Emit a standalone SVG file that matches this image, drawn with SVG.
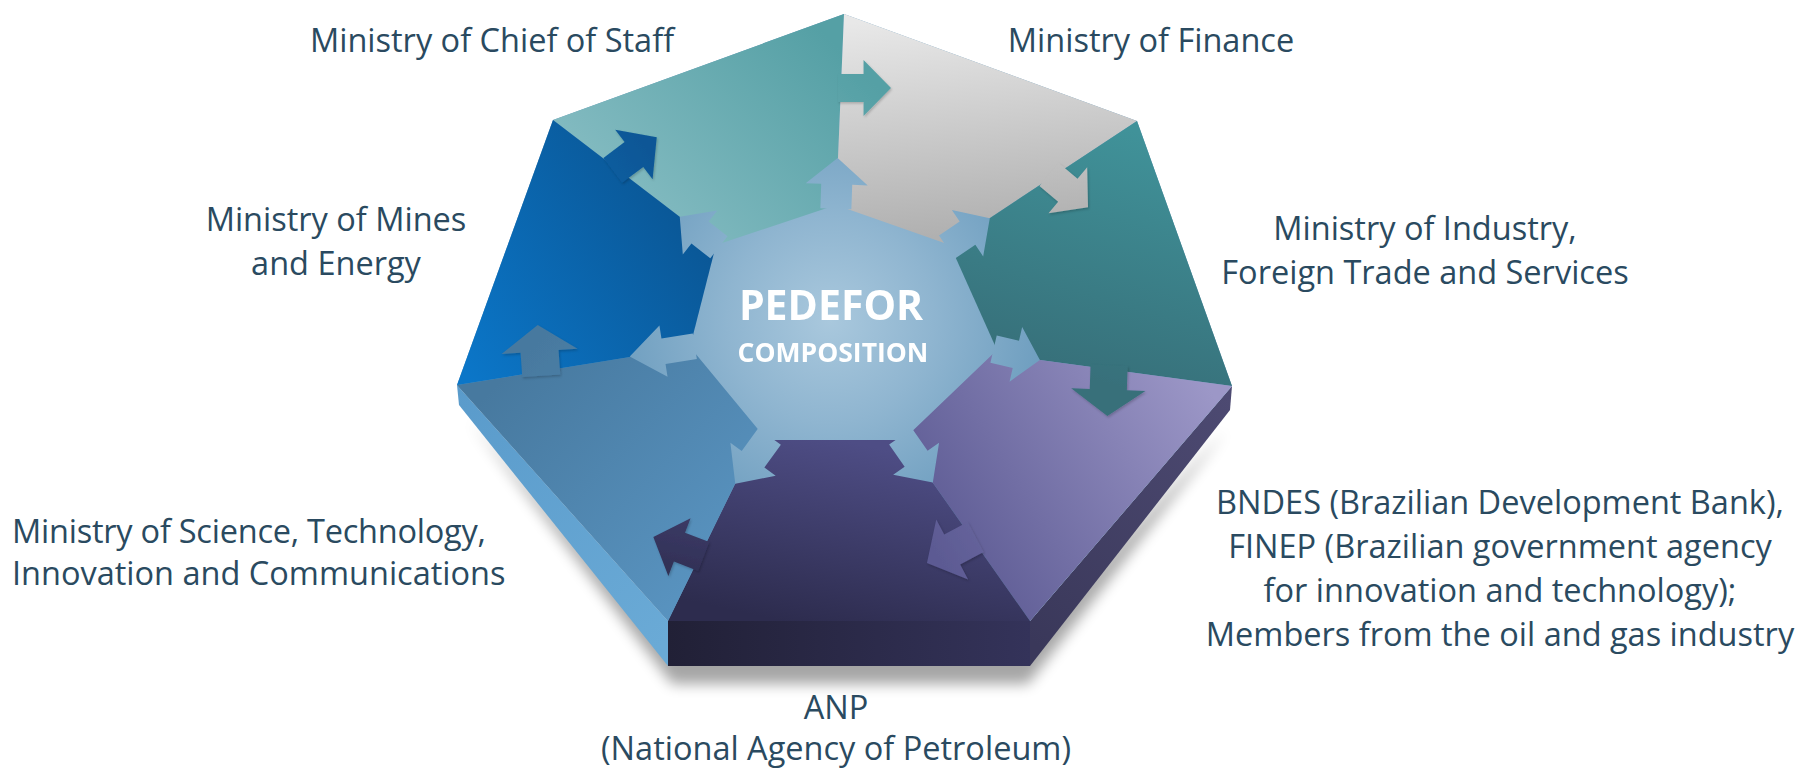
<svg xmlns="http://www.w3.org/2000/svg" xmlns:xlink="http://www.w3.org/1999/xlink" width="1802" height="771" viewBox="0 0 1802 771">
  <style>
    .label { font-family: "Open Sans", "Noto Sans", "DejaVu Sans", sans-serif; font-size: 32.5px; fill: #2a4a60; text-anchor: middle; }
    .left { text-anchor: start; }
    .hubtxt { font-family: "Open Sans", "Noto Sans", "DejaVu Sans", sans-serif; font-weight: 700; fill: #ffffff; text-anchor: middle; }
  </style>
  <defs>
    <!-- top-face fills, all in user space so arrows continue their piece colour -->
    <radialGradient id="g-hub" gradientUnits="userSpaceOnUse" cx="830" cy="320" r="230">
      <stop offset="0" stop-color="#a9c8dd"/>
      <stop offset="0.45" stop-color="#8fb5d0"/>
      <stop offset="1" stop-color="#6a9bbd"/>
    </radialGradient>
    <linearGradient id="g-chief" gradientUnits="userSpaceOnUse" x1="820" y1="30" x2="620" y2="230">
      <stop offset="0" stop-color="#55a0a5"/>
      <stop offset="1" stop-color="#87bdc3"/>
    </linearGradient>
    <linearGradient id="g-finance" gradientUnits="userSpaceOnUse" x1="880" y1="20" x2="900" y2="240">
      <stop offset="0" stop-color="#e8e8e8"/>
      <stop offset="1" stop-color="#b0b0b0"/>
    </linearGradient>
    <linearGradient id="g-industry" gradientUnits="userSpaceOnUse" x1="1130" y1="130" x2="1060" y2="370">
      <stop offset="0" stop-color="#409299"/>
      <stop offset="1" stop-color="#37707a"/>
    </linearGradient>
    <linearGradient id="g-bndes" gradientUnits="userSpaceOnUse" x1="940" y1="560" x2="1210" y2="390">
      <stop offset="0" stop-color="#5c5a93"/>
      <stop offset="1" stop-color="#9c97c7"/>
    </linearGradient>
    <linearGradient id="g-anp" gradientUnits="userSpaceOnUse" x1="840" y1="440" x2="800" y2="625">
      <stop offset="0" stop-color="#4e4d85"/>
      <stop offset="1" stop-color="#2d2c4e"/>
    </linearGradient>
    <linearGradient id="g-science" gradientUnits="userSpaceOnUse" x1="500" y1="380" x2="720" y2="600">
      <stop offset="0" stop-color="#47799f"/>
      <stop offset="1" stop-color="#5a95c2"/>
    </linearGradient>
    <linearGradient id="g-mines" gradientUnits="userSpaceOnUse" x1="470" y1="380" x2="700" y2="230">
      <stop offset="0" stop-color="#0b76c8"/>
      <stop offset="1" stop-color="#0a5796"/>
    </linearGradient>
    <!-- extruded sides -->
    <linearGradient id="g-side-left" gradientUnits="userSpaceOnUse" x1="457" y1="390" x2="668" y2="640">
      <stop offset="0" stop-color="#5a9bcb"/>
      <stop offset="1" stop-color="#6aaad6"/>
    </linearGradient>
    <linearGradient id="g-front" gradientUnits="userSpaceOnUse" x1="668" y1="0" x2="1030" y2="0">
      <stop offset="0" stop-color="#212036"/>
      <stop offset="1" stop-color="#34335a"/>
    </linearGradient>
    <linearGradient id="g-side-right" gradientUnits="userSpaceOnUse" x1="1030" y1="640" x2="1232" y2="400">
      <stop offset="0" stop-color="#3a385a"/>
      <stop offset="1" stop-color="#4d4a72"/>
    </linearGradient>
    <filter id="soft" x="-20%" y="-20%" width="140%" height="140%">
      <feGaussianBlur stdDeviation="7"/>
    </filter>
    <!-- faint edge shading so the tongues read as raised into their neighbours -->
    <filter id="lift" x="-10%" y="-10%" width="120%" height="120%">
      <feDropShadow dx="1" dy="1.5" stdDeviation="0.8" flood-color="#000000" flood-opacity="0.2"/>
    </filter>
    <!-- one arrow, pointing along +x, base on the seam at the origin -->
    <path id="arw" d="M-4,-16 L22,-16 L22,-32 L50,0 L22,32 L22,16 L-4,16 Z"/>
    <clipPath id="c-hub-arrows">
      <use href="#arw" transform="translate(836 205) rotate(-88) scale(0.94 0.97)"/>
      <use href="#arw" transform="translate(950 245) rotate(-34) scale(0.96 0.875)"/>
      <use href="#arw" transform="translate(997 350) rotate(13) scale(0.88 0.875)"/>
      <use href="#arw" transform="translate(903 440) rotate(55) scale(1.04 0.875)"/>
      <use href="#arw" transform="translate(767 440) rotate(126) scale(1.08 0.875)"/>
      <use href="#arw" transform="translate(690 347) rotate(171) scale(1.22 0.81)"/>
      <use href="#arw" transform="translate(716 245) rotate(218) scale(0.92 0.875)"/>
    </clipPath>
    <clipPath id="c-a-chief"><use href="#arw" transform="translate(842 88) rotate(0) scale(0.98 0.875)"/></clipPath>
    <clipPath id="c-a-finance"><use href="#arw" transform="translate(1052 177) rotate(40) scale(0.94 0.94)"/></clipPath>
    <clipPath id="c-a-industry"><use href="#arw" transform="translate(1109 369) rotate(92) scale(0.94 1.16)"/></clipPath>
    <clipPath id="c-a-bndes"><use href="#arw" transform="translate(972 539) rotate(152) scale(1.02 1.06)"/></clipPath>
    <clipPath id="c-a-anp"><use href="#arw" transform="translate(700 555) rotate(201) scale(1.0 0.97)"/></clipPath>
    <clipPath id="c-a-science"><use href="#arw" transform="translate(541 372) rotate(-94) scale(0.94 1.19)"/></clipPath>
    <clipPath id="c-a-mines"><use href="#arw" transform="translate(616 168) rotate(-37) scale(1.02 0.97)"/></clipPath>
  </defs>

  <rect width="1802" height="771" fill="#ffffff"/>

  <!-- slab: cast shadow and extruded sides -->
  <g id="slab">
    <polygon points="470,420 672,684 1028,684 1226,430 1030,640 668,640" fill="#000000" opacity="0.35" filter="url(#soft)"/>
    <polygon points="457,385 668,621 668,666 459,405" fill="url(#g-side-left)"/>
    <polygon points="668,621 1030,621 1030,666 668,666" fill="url(#g-front)"/>
    <polygon points="1030,621 1232,386 1230,410 1030,666" fill="url(#g-side-right)"/>
  </g>

  <!-- centre hub -->
  <g id="hub">
    <polygon points="844,14 1137,121 1232,386 1030,621 668,621 457,385 553,120" fill="url(#g-hub)"/>
  </g>

  <g id="chief">
    <polygon points="553,120 844,14 838,158 836,205 716,245 680,217" fill="url(#g-chief)"/>
    <text class="label" x="492" y="52">Ministry of Chief of Staff</text>
  </g>
  <g id="finance">
    <polygon points="844,14 1137,121 990,218 950,245 836,205 838,158" fill="url(#g-finance)"/>
    <text class="label" x="1151" y="52">Ministry of Finance</text>
  </g>
  <g id="industry">
    <polygon points="1137,121 1232,386 1040,360 997,350 950,245 990,218" fill="url(#g-industry)"/>
    <text class="label" x="1425" y="240">Ministry of Industry,</text>
    <text class="label" x="1425" y="284">Foreign Trade and Services</text>
  </g>
  <g id="bndes">
    <polygon points="1232,386 1030,621 933,483 903,440 997,350 1040,360" fill="url(#g-bndes)"/>
    <text class="label" x="1500" y="514">BNDES (Brazilian Development Bank),</text>
    <text class="label" x="1500" y="558">FINEP (Brazilian government agency</text>
    <text class="label" x="1500" y="602">for innovation and technology);</text>
    <text class="label" x="1500" y="646">Members from the oil and gas industry</text>
  </g>
  <g id="anp">
    <polygon points="1030,621 668,621 735,484 767,440 903,440 933,483" fill="url(#g-anp)"/>
    <text class="label" x="836" y="719">ANP</text>
    <text class="label" x="836" y="760">(National Agency of Petroleum)</text>
  </g>
  <g id="science">
    <polygon points="668,621 457,385 630,357 690,347 767,440 735,484" fill="url(#g-science)"/>
    <text class="label left" x="12" y="543" textLength="474" lengthAdjust="spacing">Ministry of Science, Technology,</text>
    <text class="label left" x="12" y="585">Innovation and Communications</text>
  </g>
  <g id="mines">
    <polygon points="457,385 553,120 680,217 716,245 690,347 630,357" fill="url(#g-mines)"/>
    <text class="label" x="336" y="231">Ministry of Mines</text>
    <text class="label" x="336" y="275">and Energy</text>
  </g>

  <!-- arrows: hub to every seam, and each piece into its clockwise neighbour -->
  <g id="connectors">
    <rect x="440" y="0" width="820" height="680" fill="url(#g-hub)" clip-path="url(#c-hub-arrows)"/>
    <g filter="url(#lift)">
      <rect x="440" y="0" width="820" height="680" fill="url(#g-chief)" clip-path="url(#c-a-chief)"/>
      <rect x="440" y="0" width="820" height="680" fill="url(#g-finance)" clip-path="url(#c-a-finance)"/>
      <rect x="440" y="0" width="820" height="680" fill="url(#g-industry)" clip-path="url(#c-a-industry)"/>
      <rect x="440" y="0" width="820" height="680" fill="url(#g-bndes)" clip-path="url(#c-a-bndes)"/>
      <rect x="440" y="0" width="820" height="680" fill="url(#g-anp)" clip-path="url(#c-a-anp)"/>
      <rect x="440" y="0" width="820" height="680" fill="url(#g-science)" clip-path="url(#c-a-science)"/>
      <rect x="440" y="0" width="820" height="680" fill="url(#g-mines)" clip-path="url(#c-a-mines)"/>
    </g>
  </g>

  <g id="title">
    <text class="hubtxt" x="831" y="320" font-size="41">PEDEFOR</text>
    <text class="hubtxt" x="833" y="362" font-size="26.5">COMPOSITION</text>
  </g>
</svg>
